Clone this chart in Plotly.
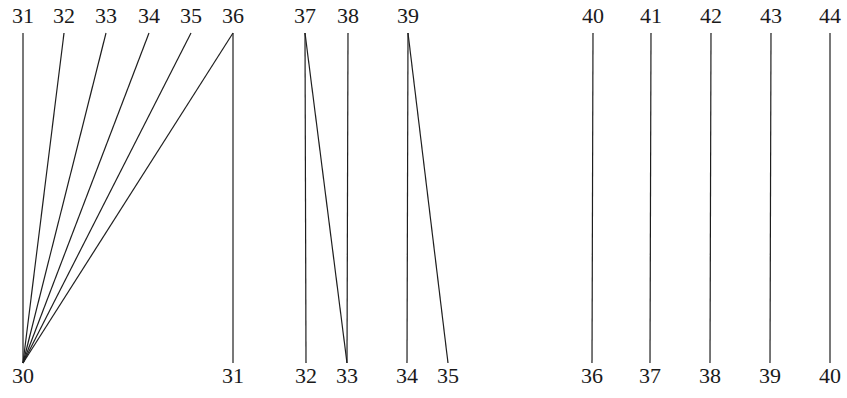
import plotly.graph_objects as go

# upper row of numbers and their horizontal positions
top_labels = [31, 32, 33, 34, 35, 36, 37, 38, 39, 40, 41, 42, 43, 44]
top_x = [23, 64, 106, 149, 191, 233, 305, 348, 408, 593, 651, 711, 771, 830]

# lower row of numbers and their horizontal positions
bottom_labels = [30, 31, 32, 33, 34, 35, 36, 37, 38, 39, 40]
bottom_x = [23, 233, 306, 347, 407, 448, 592, 650, 710, 770, 830]

# which upper number is joined to which lower number
links_top = [31, 32, 33, 34, 35, 36, 36, 37, 37, 38, 39, 39, 40, 41, 42, 43, 44]
links_bottom = [30, 30, 30, 30, 30, 30, 31, 32, 33, 33, 34, 35, 36, 37, 38, 39, 40]

top_pos = dict(zip(top_labels, top_x))
bottom_pos = dict(zip(bottom_labels, bottom_x))

y_text_top = 17
y_line_top = 33
y_line_bottom = 363
y_text_bottom = 377

xs, ys = [], []
for t, b in zip(links_top, links_bottom):
    xs += [top_pos[t], bottom_pos[b], None]
    ys += [y_line_top, y_line_bottom, None]

fig = go.Figure()

fig.add_trace(go.Scatter(
    x=xs, y=ys,
    mode='lines',
    line=dict(color='#1e1e1e', width=1.2),
    hoverinfo='skip'
))

fig.add_trace(go.Scatter(
    x=top_x, y=[y_text_top] * len(top_x),
    mode='text',
    text=[str(v) for v in top_labels],
    textfont=dict(family='Liberation Serif', size=22, color='#1a1a1a'),
    hoverinfo='skip'
))

fig.add_trace(go.Scatter(
    x=bottom_x, y=[y_text_bottom] * len(bottom_x),
    mode='text',
    text=[str(v) for v in bottom_labels],
    textfont=dict(family='Liberation Serif', size=22, color='#1a1a1a'),
    hoverinfo='skip'
))

fig.update_layout(
    width=847,
    height=398,
    margin=dict(l=0, r=0, t=0, b=0),
    showlegend=False,
    paper_bgcolor='white',
    plot_bgcolor='white',
    xaxis=dict(range=[0, 847], visible=False, fixedrange=True),
    yaxis=dict(range=[398, 0], visible=False, fixedrange=True)
)

fig.write_html("out.html", config={'displayModeBar': False})

# drop the browser's default body margin so the figure sits at the page corner
with open("out.html", encoding="utf-8") as f:
    page = f.read()
page = page.replace("<body>", '<body style="margin:0;overflow:hidden">', 1)
with open("out.html", "w", encoding="utf-8") as f:
    f.write(page)
